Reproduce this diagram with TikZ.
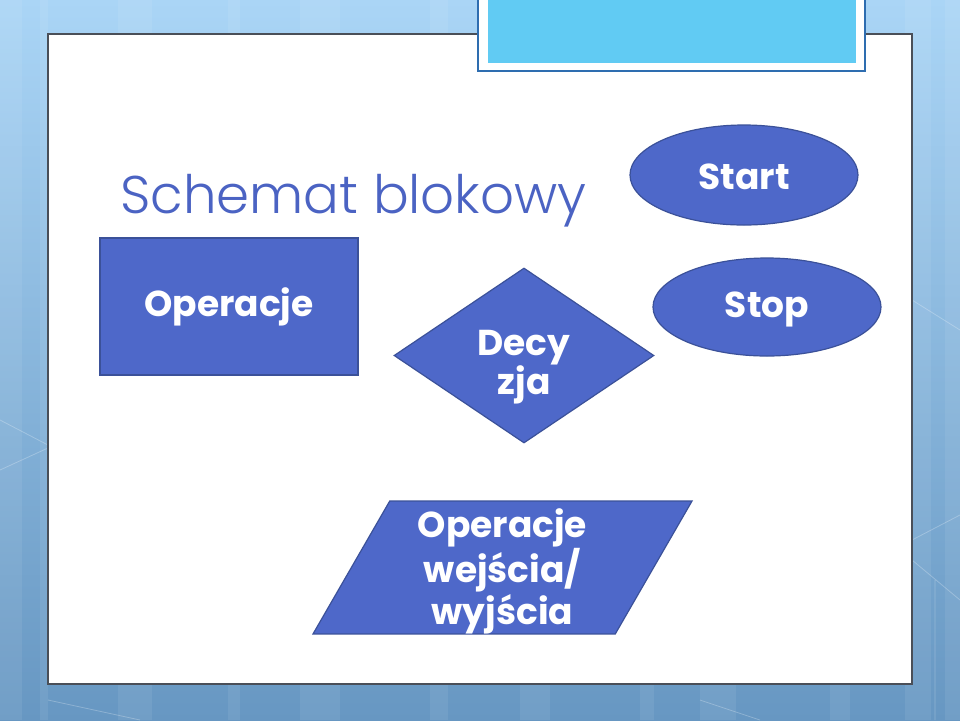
\documentclass[tikz,border=0pt]{standalone}
\usepackage{fontspec}
\setmainfont{Poppins}
\newfontfamily\titlefont{Poppins Light}
\usetikzlibrary{shapes.geometric}
\definecolor{skytop}{HTML}{AAD5F6}
\definecolor{skybottom}{HTML}{6797C2}
\definecolor{shapefill}{HTML}{4E68C9}
\definecolor{shapeline}{HTML}{3B5199}
\definecolor{titleblue}{HTML}{4B63C3}
\definecolor{bannerfill}{HTML}{61CBF3}
\definecolor{bannerline}{HTML}{2E6DB0}
\definecolor{panelline}{HTML}{4A4F58}

\begin{document}
\begin{tikzpicture}[x=0.5pt,y=-0.5pt,
    block/.style={draw=shapeline,line width=0.6pt,fill=shapefill,text=white,
      font=\fontsize{18}{19.5}\selectfont\bfseries,align=center,inner sep=0pt},
    titletext/.style={text=titleblue,font=\titlefont\fontsize{26.5}{28}\selectfont,inner sep=0pt}]
    \useasboundingbox (0,0) rectangle (960,720);
    % background of the slide
    \shade[top color=skytop,bottom color=skybottom] (0,0) rectangle (960,720);
    \foreach \sx/\sw in {0/22,40/8,118/34,228/12,300/40,430/18,520/30,640/14,700/36,830/20,905/26,945/15} {
      \fill[white,opacity=0.07] (\sx,0) rectangle ++(\sw,720);
    }
    \draw[white,opacity=0.25,line width=0.4pt] (912,540) -- (960,515) (912,560) -- (960,600)
      (935,580) -- (935,720) (0,420) -- (48,445) (0,470) -- (48,448) (48,700) -- (140,720)
      (700,700) -- (760,720) (912,300) -- (960,330);
    % white panel and banner
    \draw[panelline,line width=0.6pt,fill=white] (48,34) rectangle (912,684);
    \draw[bannerline,line width=0.7pt,fill=white] (478,-5) rectangle (865,71);
    \fill[bannerfill] (488,-5) rectangle (856,63);
    % title
    \node[titletext,anchor=base west] (title) at (120,213) {Schemat blokowy};
    % flowchart symbols
    \node[block,rectangle,text height=15pt,minimum width=129pt,minimum height=68.5pt] (oper) at (229,306.5) {Operacje};
    \node[block,diamond,aspect=1.5,minimum width=130pt,minimum height=87.5pt] (decyzja) at (524,355.5)
      {\rule{0pt}{24pt}Decy\\zja};
    \node[block,ellipse,text height=15pt,minimum width=114pt,minimum height=50pt] (start) at (744,175) {Start};
    \node[block,ellipse,text height=15pt,minimum width=114pt,minimum height=49pt] (stop) at (767,307) {Stop};
    \node[block,trapezium,trapezium left angle=60,trapezium right angle=120,
      font=\fontsize{18}{18.5}\selectfont\bfseries,
      trapezium stretches body,minimum width=189.5pt,minimum height=64.5pt] (io) at (502.5,567.5)
      {\rule{0pt}{18pt}Operacje\\wejścia/\\wyjścia};
  \end{tikzpicture}
\end{document}
